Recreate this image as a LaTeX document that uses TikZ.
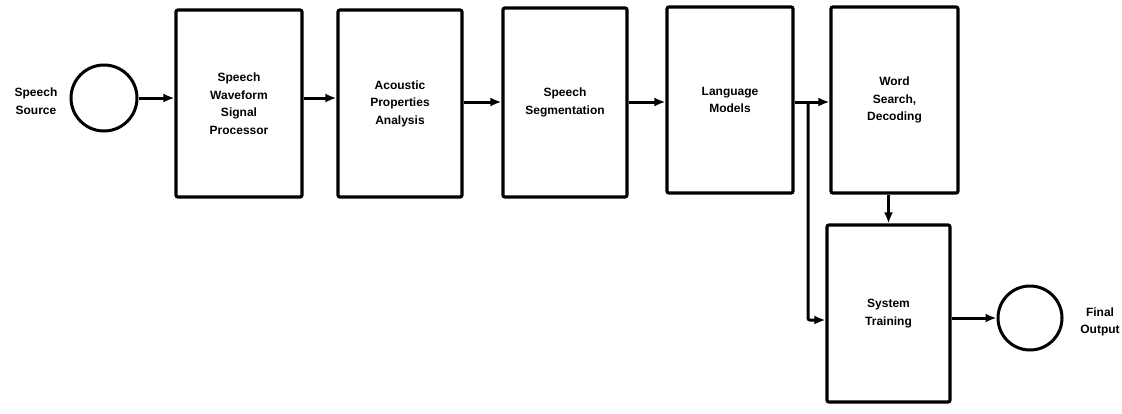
\documentclass[tikz,border=0pt]{standalone}
\usepackage{fontspec}
\setmainfont{Liberation Sans}
\usetikzlibrary{arrows.meta}
\begin{document}
\begin{tikzpicture}[x=1pt,y=-1pt,
  blk/.style={draw, line width=3.2pt, rounded corners=2pt, inner sep=0pt, align=center,
    font=\fontsize{12}{17.5}\selectfont\bfseries},
  circ/.style={draw, circle, line width=3pt, inner sep=0pt},
  lbl/.style={align=center, inner sep=0pt, font=\fontsize{12}{17.5}\selectfont\bfseries},
  arr/.style={line width=3pt, -{Latex[length=11pt,width=9pt]}},
  ln/.style={line width=3pt}]
\useasboundingbox (0,0) rectangle (1122,413);
\node[circ, minimum size=66pt] (c1) at (104,98) {};
\node[lbl] (src) at (36,101) {Speech\\Source};
\node[blk, minimum width=126pt, minimum height=187pt] (b1) at (239,103.5) {Speech\\Waveform\\Signal\\Processor};
\node[blk, minimum width=124pt, minimum height=187pt] (b2) at (400,103.5) {Acoustic\\Properties\\Analysis};
\node[blk, minimum width=124pt, minimum height=189pt] (b3) at (565,102.5) {Speech\\Segmentation};
\node[blk, minimum width=126pt, minimum height=186pt] (b4) at (730,100) {Language\\Models};
\node[blk, minimum width=127pt, minimum height=186pt] (b5) at (894.5,100) {Word\\Search,\\Decoding};
\node[blk, minimum width=123pt, minimum height=177pt] (b6) at (888.5,313.5) {System\\Training};
\node[circ, minimum size=64pt] (c2) at (1030,318) {};
\node[lbl] (out) at (1100,322) {Final\\Output};
\coordinate (y1) at (0,98);
\coordinate (y2) at (0,102);
\coordinate (j) at (808,102);
\coordinate (y3) at (0,320);
\draw[arr] (c1.east) -- (b1.west|-c1.east);
\draw[arr] (b1.east|-y1) -- (b2.west|-y1);
\draw[arr] (b2.east|-y2) -- (b3.west|-y2);
\draw[arr] (b3.east|-y2) -- (b4.west|-y2);
\draw[arr] (b4.east|-y2) -- (b5.west|-y2);
\draw[arr, rounded corners=2pt] (j) |- (b6.west|-y3);
\draw[arr] (b6.north|-b5.south) -- (b6.north);
\draw[arr] (b6.east|-c2) -- (c2.west);
\end{tikzpicture}
\end{document}
